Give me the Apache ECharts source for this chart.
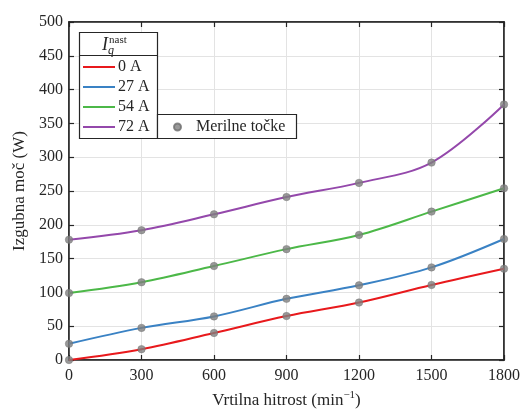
<!DOCTYPE html>
<html><head><meta charset="utf-8">
<script src="https://cdn.jsdelivr.net/npm/echarts@6/dist/echarts.min.js"></script>
<style>html,body{margin:0;padding:0;background:#fff}#c{width:528px;height:414px}</style>
</head><body><div id="c"></div>
<script>
const speeds = [0, 300, 600, 900, 1200, 1500, 1800];
const seriesNames = ['0 A', '27 A', '54 A', '72 A'];
const loss0A  = [0, 16, 40, 65, 85, 111, 135];
const loss27A = [24, 47.5, 64.5, 90.5, 110.5, 137, 179];
const loss54A = [99, 115, 139, 164, 185, 219.5, 254];
const loss72A = [178, 192, 215.5, 241, 262, 292, 378];
const yTicks = [0, 50, 100, 150, 200, 250, 300, 350, 400, 450, 500];
const xTicks = [0, 300, 600, 900, 1200, 1500, 1800];
const pointsName = 'Merilne točke';

const colors = ['#e8191c', '#3a82c4', '#4cb848', '#9448ab'];
const allLoss = [loss0A, loss27A, loss54A, loss72A];
const FONT = 'Liberation Serif';

const lineSeries = allLoss.map((arr, i) => ({
  name: seriesNames[i], type: 'line', smooth: 0.35, showSymbol: false,
  data: speeds.map((s, j) => [s, arr[j]]),
  lineStyle: {color: colors[i], width: 2}, itemStyle: {color: colors[i]},
  xAxisIndex: 0, yAxisIndex: 0, z: 2
}));
const pts = [];
allLoss.forEach(arr => speeds.forEach((s, j) => pts.push([s, arr[j]])));

const chart = echarts.init(document.getElementById('c'), null, {renderer: 'canvas'});
function mkAxis(extra) {
  return Object.assign({
    type: 'value', min: 0,
    axisLine: {show: true, onZero: false, lineStyle: {color: '#262626', width: 1.5}},
    axisTick: {show: true, inside: true, length: 5, lineStyle: {color: '#262626', width: 1.2}},
    axisLabel: {show: false},
    splitLine: {show: false}
  }, extra);
}
chart.setOption({
  animation: false,
  textStyle: {fontFamily: FONT},
  grid: {left: 69, right: 24, top: 22, bottom: 48, show: true, borderColor: '#262626', borderWidth: 1.5, backgroundColor: 'transparent'},
  xAxis: [
    mkAxis({max: 1800, interval: 300, position: 'bottom',
      name: 'Vrtilna hitrost (min{s|−1})', nameLocation: 'middle', nameGap: 30,
      nameTextStyle: {fontFamily: FONT, fontSize: 17, color: '#262626', rich: {s: {fontFamily: FONT, fontSize: 11, color: '#262626', padding: [0, 0, 10, 0]}}},
      axisLabel: {show: true, fontFamily: FONT, fontSize: 16, color: '#262626', margin: 8, formatter: v => String(v)},
      splitLine: {show: true, lineStyle: {color: '#e3e3e3', width: 1}}}),
    mkAxis({max: 1800, interval: 300, position: 'top'})
  ],
  yAxis: [
    mkAxis({max: 500, interval: 50, position: 'left',
      name: 'Izgubna moč (W)', nameLocation: 'middle', nameGap: 41,
      nameTextStyle: {fontFamily: FONT, fontSize: 17, color: '#262626'},
      axisLabel: {show: true, fontFamily: FONT, fontSize: 16, color: '#262626', margin: 6, formatter: v => String(v)},
      splitLine: {show: true, lineStyle: {color: '#e3e3e3', width: 1}}}),
    mkAxis({max: 500, interval: 50, position: 'right'})
  ],
  legend: [
    {data: seriesNames, orient: 'vertical', left: 83, top: 59, itemWidth: 32, itemHeight: 14, itemGap: 4, z: 30,
     icon: 'path://M0,6L32,6L32,8L0,8Z', textStyle: {fontFamily: FONT, fontSize: 16, lineHeight: 16, color: '#262626', padding: [0, 0, 0, -2]}, padding: 0},
    {data: [pointsName], left: 173, top: 119, itemWidth: 7, itemHeight: 7, itemGap: 0, z: 30,
     textStyle: {fontFamily: FONT, fontSize: 16, lineHeight: 16, color: '#262626', padding: [0, 0, 0, 10]}, padding: 0}
  ],
  graphic: [
    {type: 'rect', shape: {x: 79.5, y: 32.5, width: 78, height: 106}, style: {fill: '#fff', stroke: '#262626', lineWidth: 1.2}, z: 1},
    {type: 'line', shape: {x1: 79.5, y1: 55.5, x2: 157.5, y2: 55.5}, style: {stroke: '#262626', lineWidth: 1.2}, z: 1},
    {type: 'rect', shape: {x: 157.5, y: 114.5, width: 139, height: 24}, style: {fill: '#fff', stroke: '#262626', lineWidth: 1.2}, z: 1},
    {type: 'text', x: 102, y: 33, z: 31, style: {text: '{i|I}{q|q}{n|nast}', rich: {
      i: {fontFamily: FONT, fontStyle: 'italic', fontSize: 18, fill: '#262626'},
      q: {fontFamily: FONT, fontStyle: 'italic', fontSize: 12, fill: '#262626', padding: [12, 0, 0, 0]},
      n: {fontFamily: FONT, fontSize: 11, fill: '#262626', padding: [0, 0, 10, -5]}
    }}}
  ],
  series: lineSeries.concat([{
    name: pointsName, type: 'scatter', data: pts, symbol: 'circle', symbolSize: 7.5,
    itemStyle: {color: '#808080', borderColor: '#6e6e6e', borderWidth: 0.5}, z: 5
  }])
});
</script></body></html>
